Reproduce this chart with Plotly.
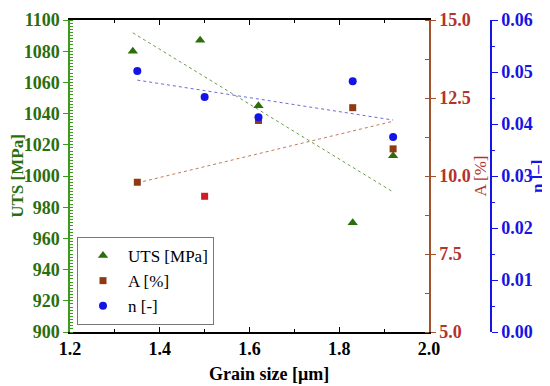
import numpy as np
import plotly.graph_objects as go

# Data
uts_grain = [1.34, 1.49, 1.62, 1.83, 1.92]
uts_vals = [1080, 1087, 1045, 970, 1013]

a_grain = [1.35, 1.50, 1.62, 1.83, 1.92]
a_vals = [9.80, 9.35, 11.78, 12.19, 10.87]

n_grain = [1.35, 1.50, 1.62, 1.83, 1.92]
n_vals = [0.0502, 0.0452, 0.0413, 0.0482, 0.0375]

x_ticks = [1.2, 1.4, 1.6, 1.8, 2.0]

GREEN = "#2b6e0c"
GREEN_AX = "#3c9a1c"
BROWN = "#8e3a12"
BROWN_AX = "#a0522d"
BROWN_TXT = "#b3342a"
BLUE = "#1414e6"
FONT = "Liberation Serif"


def fit_line(x, y):
    k, b = np.polyfit(x, y, 1)
    xs = np.array([min(x), max(x)])
    return xs, k * xs + b


fig = go.Figure()

# trend lines
gx, gy = fit_line(uts_grain, uts_vals)
fig.add_trace(go.Scatter(x=gx, y=gy, mode="lines", yaxis="y",
                         line=dict(color="#6f9a4f", width=1, dash="dot"),
                         showlegend=False, hoverinfo="skip"))
ax_, ay_ = fit_line(a_grain, a_vals)
fig.add_trace(go.Scatter(x=ax_, y=ay_, mode="lines", yaxis="y2",
                         line=dict(color="#c4785a", width=1, dash="dot"),
                         showlegend=False, hoverinfo="skip"))
nx_, ny_ = fit_line(n_grain, n_vals)
fig.add_trace(go.Scatter(x=nx_, y=ny_, mode="lines", yaxis="y3",
                         line=dict(color="#6a6ae0", width=1, dash="dot"),
                         showlegend=False, hoverinfo="skip"))

# markers
fig.add_trace(go.Scatter(x=uts_grain, y=uts_vals, mode="markers", name="UTS [MPa]",
                         yaxis="y",
                         marker=dict(symbol="triangle-up", size=9, color=GREEN)))
fig.add_trace(go.Scatter(x=a_grain, y=a_vals, mode="markers", name="A [%]",
                         yaxis="y2",
                         marker=dict(symbol="square", size=7,
                                     color=[BROWN, "#d01c24", BROWN, BROWN, BROWN])))
fig.add_trace(go.Scatter(x=n_grain, y=n_vals, mode="markers", name="n [-]",
                         yaxis="y3",
                         marker=dict(symbol="circle", size=8, color=BLUE)))

# page body offsets the figure by 8px
OFF = 8
W, H = 550 - OFF, 386 - OFF
L, T = 70 - OFF, 20 - OFF
B = H - (332 - OFF)
R = W - (491 - OFF)
plot_w = W - L - R
main_w = 429 - 70
xdom_end = main_w / plot_w

fig.update_layout(
    width=W, height=H,
    margin=dict(l=L, r=R, t=T, b=B, autoexpand=False),
    paper_bgcolor="white", plot_bgcolor="white",
    font=dict(family=FONT, size=17, color="black"),
    showlegend=True,
    legend=dict(x=(77 - 70) / plot_w, y=(332 - 237) / 312, xanchor="left", yanchor="top",
                bgcolor="white", bordercolor="#777", borderwidth=1,
                font=dict(family=FONT, size=17, color="black"),
                itemwidth=40, tracegroupgap=2),
    xaxis=dict(domain=[0, xdom_end], range=[1.2, 2.0],
               tickvals=x_ticks, ticktext=[f"{v:.1f}" for v in x_ticks],
               ticks="inside", ticklen=5, tickcolor="black",
               minor=dict(dtick=0.1, ticks="inside", ticklen=3, tickcolor="black"),
               showline=True, linecolor="black", linewidth=1.5, mirror="ticks",
               showgrid=False, zeroline=False,
               tickfont=dict(family=FONT, size=18, color="black", weight="bold"),
               ),
    yaxis=dict(range=[900, 1100], dtick=20, ticks="outside", ticklen=5,
               tickcolor=GREEN_AX,
               minor=dict(dtick=2, ticks="inside", ticklen=3, tickcolor=GREEN_AX),
               showline=True, linecolor=GREEN_AX, linewidth=1.5,
               showgrid=False, zeroline=False,
               tickfont=dict(family=FONT, size=18, color=GREEN, weight="bold"),
               title=dict(text="UTS [MPa]", standoff=2,
                          font=dict(family=FONT, size=17, color=GREEN, weight="bold"))),
    yaxis2=dict(range=[5, 15], tickvals=[5, 7.5, 10, 12.5, 15],
                ticktext=["5.0", "7.5", "10.0", "12.5", "15.0"],
                overlaying="y", anchor="x", side="right",
                ticks="outside", ticklen=5, tickcolor=BROWN_AX,
                minor=dict(dtick=1.25, ticks="inside", ticklen=4, tickcolor=BROWN_AX),
                showline=True, linecolor=BROWN_AX, linewidth=1.5,
                showgrid=False, zeroline=False,
                tickfont=dict(family=FONT, size=18, color=BROWN_TXT, weight="bold"),
                title=dict(text="A [%]", standoff=0,
                           font=dict(family=FONT, size=17, color=BROWN_TXT))),
    yaxis3=dict(range=[0, 0.06], dtick=0.01, tickformat=".2f",
                overlaying="y", anchor="free", position=1.0, side="right",
                ticks="outside", ticklen=6, tickcolor=BLUE,
                minor=dict(dtick=0.005, ticks="outside", ticklen=3, tickcolor=BLUE),
                showline=True, linecolor=BLUE, linewidth=1.5,
                showgrid=False, zeroline=False,
                tickfont=dict(family=FONT, size=18, color=BLUE, weight="bold")),
)

fig.add_annotation(text="<b>Grain size [μm]</b>", xref="paper", yref="paper",
                   x=(269 - 70) / plot_w, y=-(374 - 332) / 312,
                   xanchor="center", yanchor="middle", showarrow=False,
                   font=dict(family=FONT, size=18, color="black"))

fig.add_annotation(text="<b>n [–]</b>", xref="paper", yref="paper",
                   x=(537 - 70) / plot_w, y=0.5, textangle=-90,
                   xanchor="center", yanchor="middle", showarrow=False,
                   font=dict(family=FONT, size=17, color=BLUE))

fig.write_html("out.html")
